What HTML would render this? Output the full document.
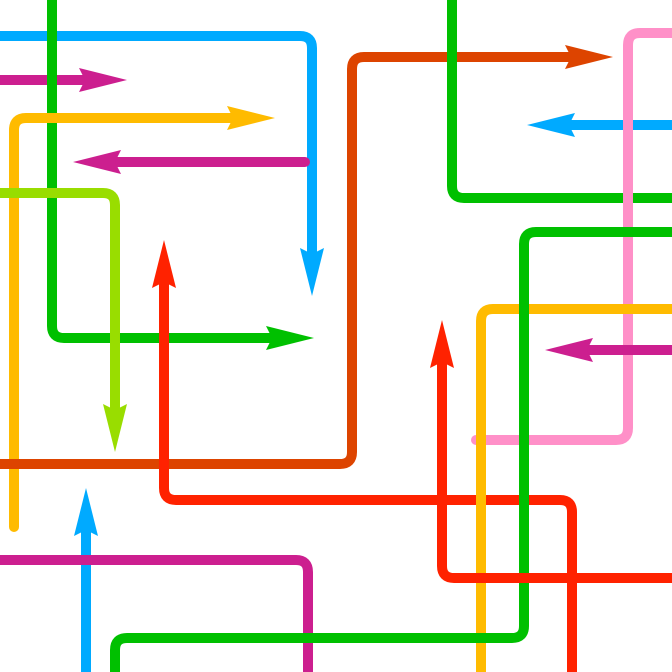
<!DOCTYPE html>
<html><head><meta charset="utf-8"><style>html,body{margin:0;padding:0;background:#fff}svg{display:block}</style></head>
<body>
<svg id="s" width="672" height="672" viewBox="0 0 672 672" xmlns="http://www.w3.org/2000/svg"></svg>
<script>
const s=document.getElementById('s');
const NS='http://www.w3.org/2000/svg';
function seg(pts,col,arrow){
  let p=pts.map(a=>a.slice());
  let poly=null;
  if(arrow){
    const tip=p[p.length-1];const q=p[p.length-2];
    const dx=Math.sign(tip[0]-q[0]),dy=Math.sign(tip[1]-q[1]);
    p[p.length-1]=[tip[0]-dx*44,tip[1]-dy*44];
    const b=[tip[0]-dx*48,tip[1]-dy*48];
    const px=-dy,py=dx;
    poly=document.createElementNS(NS,'polygon');
    poly.setAttribute('points',`${tip[0]},${tip[1]} ${b[0]+px*12},${b[1]+py*12} ${b[0]+dx*6},${b[1]+dy*6} ${b[0]-px*12},${b[1]-py*12}`);
    poly.setAttribute('fill',col);
  }
  const r=12;let d=`M${p[0][0]},${p[0][1]}`;
  for(let i=1;i<p.length-1;i++){
    const a=p[i-1],c=p[i],n=p[i+1];
    const d1=[Math.sign(c[0]-a[0]),Math.sign(c[1]-a[1])],d2=[Math.sign(n[0]-c[0]),Math.sign(n[1]-c[1])];
    d+=` L${c[0]-d1[0]*r},${c[1]-d1[1]*r} Q${c[0]},${c[1]} ${c[0]+d2[0]*r},${c[1]+d2[1]*r}`;
  }
  d+=` L${p[p.length-1][0]},${p[p.length-1][1]}`;
  const path=document.createElementNS(NS,'path');
  path.setAttribute('d',d);path.setAttribute('fill','none');path.setAttribute('stroke',col);
  path.setAttribute('stroke-width','10');path.setAttribute('stroke-linecap','round');
  s.appendChild(path);
  if(poly)s.appendChild(poly);
}
seg([[-10,36],[312,36],[312,296]],'#00aaff',1);
seg([[-10,80],[127,80]],'#cc1f8f',1);
seg([[52,-10],[52,338],[314,338]],'#00c000',1);
seg([[14,527],[14,118],[275,118]],'#ffbb00',1);
seg([[305,162],[73,162]],'#cc1f8f',1);
seg([[-10,193],[115,193],[115,452]],'#99dd00',1);
seg([[-10,464],[352,464],[352,57],[613,57]],'#dd4400',1);
seg([[572,682],[572,500],[164,500],[164,240]],'#ff2200',1);
seg([[86,682],[86,488]],'#00aaff',1);
seg([[-10,560],[308,560],[308,682]],'#cc1f8f',0);
seg([[452,-10],[452,198],[682,198]],'#00c000',0);
seg([[682,125],[527,125]],'#00aaff',1);
seg([[682,33],[628,33],[628,440],[476,440]],'#ff90c8',0);
seg([[481,682],[481,309],[682,309]],'#ffbb00',0);
seg([[682,232],[524,232],[524,638],[115,638],[115,682]],'#00c000',0);
seg([[682,350],[545,350]],'#cc1f8f',1);
seg([[682,578],[442,578],[442,320]],'#ff2200',1);
</script>
</body></html>
